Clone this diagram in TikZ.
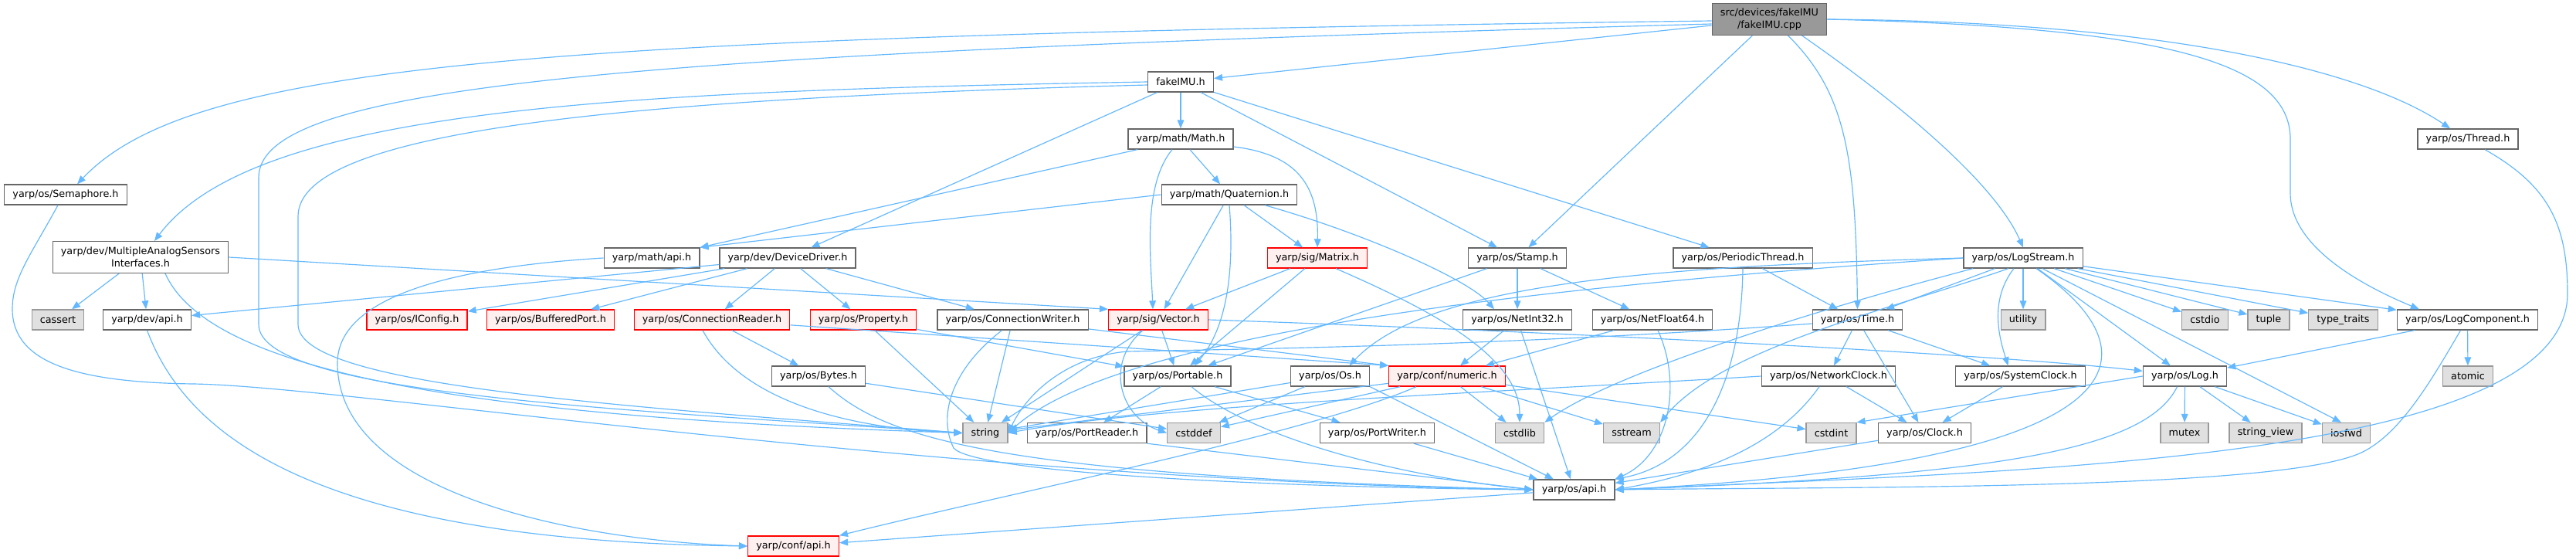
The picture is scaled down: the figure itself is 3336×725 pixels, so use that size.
\documentclass[tikz,border=0pt]{standalone}
\usepackage{fontspec}
\setmainfont{DejaVu Sans}
\usetikzlibrary{arrows.meta}
\definecolor{edgeblue}{HTML}{63B8FF}
\definecolor{boxline}{HTML}{666666}
\definecolor{redfill}{HTML}{FFF0F0}
\definecolor{redline}{HTML}{FF0000}
\definecolor{sysfill}{HTML}{E0E0E0}
\definecolor{sysline}{HTML}{999999}
\definecolor{srcfill}{HTML}{999999}
\tikzset{
  hdr/.style     = {draw=boxline, line width=0.4mm, fill=white, text=black,
                    inner xsep=3.2mm, inner ysep=0pt, minimum height=7.8mm,
                    font=\fontsize{10.9}{13.4}\selectfont},
  hdrred/.style  = {hdr, draw=redline, fill=redfill},
  hdrsys/.style  = {hdr, draw=sysline, fill=sysfill},
  hdrtwo/.style  = {hdr, minimum height=12.2mm, align=center},
  hdrsrc/.style  = {hdrtwo, fill=srcfill},
  dep/.style     = {draw=edgeblue, line width=0.35mm,
                    -{Triangle[length=3.3mm,width=2.6mm]}},
}
\begin{document}
\begin{tikzpicture}[x=0.3mm, y=-0.3mm]
  \fill[white] (0,0) rectangle (3336,725);
  \useasboundingbox (0,0) rectangle (3336,725);
  % rows 0-4
  \node[hdrsrc] (cpp)       at (2291.5,25) {src/devices/fakeIMU\\/fakeIMU.cpp};
  \node[hdr]    (fakeimuh)  at (1529,106)  {fakeIMU.h};
  \node[hdr]    (math)      at (1529,180)  {yarp/math/Math.h};
  \node[hdr]    (thread)    at (3196,180)  {yarp/os/Thread.h};
  \node[hdr]    (semaphore) at (85,252)    {yarp/os/Semaphore.h};
  \node[hdr]    (quat)      at (1592,252)  {yarp/math/Quaternion.h};
  \node[hdrtwo] (masi)      at (182,333)   {yarp/dev/MultipleAnalogSensors\\Interfaces.h};
  \node[hdr]    (mathapi)   at (844,334)   {yarp/math/api.h};
  \node[hdr]    (devdrv)    at (1020,334)  {yarp/dev/DeviceDriver.h};
  \node[hdrred] (matrix)    at (1706,334)  {yarp/sig/Matrix.h};
  \node[hdr]    (stamp)     at (1965,334)  {yarp/os/Stamp.h};
  \node[hdr]    (pthread)   at (2257,334)  {yarp/os/PeriodicThread.h};
  \node[hdr]    (logstream) at (2620,334)  {yarp/os/LogStream.h};
  % row 5
  \node[hdrsys] (cassert)    at (75,414)     {cassert};
  \node[hdr]    (devapi)     at (190.5,414)  {yarp/dev/api.h};
  \node[hdrred] (iconfig)    at (540,414)    {yarp/os/IConfig.h};
  \node[hdrred] (bufport)    at (713,414)    {yarp/os/BufferedPort.h};
  \node[hdrred] (connreader) at (922,414)    {yarp/os/ConnectionReader.h};
  \node[hdrred] (property)   at (1118,414)   {yarp/os/Property.h};
  \node[hdr]    (connwriter) at (1311.5,414) {yarp/os/ConnectionWriter.h};
  \node[hdrred] (vector)     at (1500,414)   {yarp/sig/Vector.h};
  \node[hdr]    (netint32)   at (1965,414)   {yarp/os/NetInt32.h};
  \node[hdr]    (netfloat)   at (2140,414)   {yarp/os/NetFloat64.h};
  \node[hdr]    (time)       at (2405.5,414) {yarp/os/Time.h};
  \node[hdrsys] (utility)    at (2620,414)   {utility};
  \node[hdrsys] (cstdio)     at (2855.5,414) {cstdio};
  \node[hdrsys] (tuple)      at (2938,414)   {tuple};
  \node[hdrsys] (typetraits) at (3034.5,414) {type\_traits};
  \node[hdr]    (logcomp)    at (3195.5,414) {yarp/os/LogComponent.h};
  % row 6
  \node[hdr]    (bytes)    at (1060,487)   {yarp/os/Bytes.h};
  \node[hdr]    (portable) at (1525,487)   {yarp/os/Portable.h};
  \node[hdr]    (os)       at (1722.5,487) {yarp/os/Os.h};
  \node[hdrred] (numeric)  at (1874,487)   {yarp/conf/numeric.h};
  \node[hdr]    (netclock) at (2368,487)   {yarp/os/NetworkClock.h};
  \node[hdr]    (sysclock) at (2616.5,487) {yarp/os/SystemClock.h};
  \node[hdr]    (log)      at (2829.5,487) {yarp/os/Log.h};
  \node[hdrsys] (atomic)   at (3196,487)   {atomic};
  % row 7
  \node[hdrsys] (string)     at (1276,560.5)   {string};
  \node[hdr]    (portreader) at (1407.5,560.5) {yarp/os/PortReader.h};
  \node[hdrsys] (cstddef)    at (1546,560.5)   {cstddef};
  \node[hdr]    (portwriter) at (1783.5,560.5) {yarp/os/PortWriter.h};
  \node[hdrsys] (cstdlib)    at (1968,560.5)   {cstdlib};
  \node[hdrsys] (sstream)    at (2113,560.5)   {sstream};
  \node[hdrsys] (cstdint)    at (2371.5,560.5) {cstdint};
  \node[hdr]    (clock)      at (2492.5,560.5) {yarp/os/Clock.h};
  \node[hdrsys] (mutex)      at (2829,560.5)   {mutex};
  \node[hdrsys] (strview)    at (2934,560.5)   {string\_view};
  \node[hdrsys] (iosfwd)     at (3038.5,560.5) {iosfwd};
  % rows 8-9
  \node[hdr]    (osapi)   at (2038.5,634) {yarp/os/api.h};
  \node[hdrred] (confapi) at (1027.5,707) {yarp/conf/api.h};

  % fakeIMU.cpp
  \draw[dep] (cpp) -- (fakeimuh);
  \draw[dep] ([yshift=-0.6mm]cpp.west) .. controls (700,47) and (250,80) .. ([xshift=4.5mm]semaphore.north);
  \draw[dep] ([yshift=-1.8mm]cpp.west) .. controls (800,70) and (335,110) .. (335,230) -- (335,420)
             .. controls (335,510) and (800,530) .. (string.west);
  \draw[dep] (cpp) -- (stamp);
  \draw[dep] ([xshift=7.2mm]cpp.south) .. controls (2390,120) and (2403,200) .. (time.north);
  \draw[dep] ([xshift=12.6mm]cpp.south) .. controls (2440,120) and (2580,230) .. (logstream.north);
  \draw[dep] (cpp.east) .. controls (2800,35) and (2966,80) .. (2966,180) -- (2966,250)
             .. controls (2966,320) and (3060,370) .. ([xshift=-18.8mm]logcomp.north);
  \draw[dep] (cpp.east) .. controls (2800,28) and (3060,90) .. ([xshift=-6.9mm]thread.north);
  % fakeIMU.h
  \draw[dep] (fakeimuh) -- (math);
  \draw[dep] (fakeimuh) -- (devdrv);
  \draw[dep] (fakeimuh) -- (stamp);
  \draw[dep] (fakeimuh) -- (pthread);
  \draw[dep] (fakeimuh.west) .. controls (800,118) and (330,140) .. ([xshift=5.4mm]masi.north);
  \draw[dep] ([yshift=-1.2mm]fakeimuh.west) .. controls (800,128) and (386,170) .. (386,280) -- (386,420)
             .. controls (386,500) and (800,525) .. (string.west);
  % left part
  \draw[dep] ([xshift=-3mm]semaphore.south) .. controls (40,330) and (16,360) .. (16,400)
             .. controls (16,470) and (100,495) .. (250,497)
             .. controls (450,500) and (1200,620) .. (osapi.west);
  \draw[dep] (masi) -- (cassert);
  \draw[dep] (masi) -- (devapi);
  \draw[dep] (masi.east) -- (vector.north west);
  \draw[dep] ([xshift=9.6mm]masi.south) .. controls (270,480) and (600,540) .. (string.west);
  \draw[dep] (devapi.south) .. controls (240,560) and (400,700) .. (confapi.west);
  \draw[dep] (mathapi.west) .. controls (600,345) and (437,380) .. (437,470)
             .. controls (437,640) and (750,700) .. (confapi.west);
  % math
  \draw[dep] ([xshift=-16.8mm]math.south) -- (mathapi.north east);
  \draw[dep] ([xshift=-3.3mm]math.south) .. controls (1480,240) and (1490,330) .. ([xshift=-2.1mm]vector.north);
  \draw[dep] (math) -- (quat);
  \draw[dep] ([yshift=-3mm]math.east) .. controls (1680,200) and (1708,240) .. (matrix.north);
  \draw[dep] (quat.west) -- (mathapi.north east);
  \draw[dep] (quat) -- (vector);
  \draw[dep] (quat.south) .. controls (1598,340) and (1592,420) .. ([xshift=6.6mm]portable.north);
  \draw[dep] (quat) -- (matrix);
  \draw[dep] ([xshift=13.8mm]quat.south) .. controls (1760,300) and (1900,360) .. ([xshift=-9mm]netint32.north);
  \draw[dep] (matrix) -- (vector);
  \draw[dep] (matrix) -- (portable);
  \draw[dep] ([xshift=7.2mm]matrix.south) .. controls (1850,400) and (1968,460) .. (cstdlib.north);
  % device driver
  \draw[dep] (devdrv) -- (devapi);
  \draw[dep] (devdrv) -- (iconfig);
  \draw[dep] (devdrv) -- (bufport);
  \draw[dep] (devdrv) -- (connreader);
  \draw[dep] (devdrv) -- (property);
  \draw[dep] (devdrv) -- (connwriter);
  \draw[dep] (connreader) -- (bytes);
  \draw[dep] ([xshift=-3.6mm]connreader.south) .. controls (960,520) and (1100,555) .. (string.west);
  \draw[dep] (connreader) -- (numeric.north west);
  \draw[dep] (property) -- (string);
  \draw[dep] (property) -- (portable);
  \draw[dep] (connwriter) -- (string);
  \draw[dep] (connwriter) -- (numeric.north west);
  \draw[dep] ([xshift=-4.2mm]connwriter.south) .. controls (1230,480) and (1215,540) .. (1235,580)
             .. controls (1260,610) and (1600,630) .. (osapi.west);
  \draw[dep] (vector) -- (portable);
  \draw[dep] (vector) -- (string);
  \draw[dep] ([xshift=-6mm]vector.south) .. controls (1430,470) and (1450,540) .. (cstddef.west);
  \draw[dep] (vector.east) .. controls (1900,425) and (2550,455) .. ([yshift=2mm]log.west);
  \draw[dep] (bytes) -- (cstddef);
  \draw[dep] ([xshift=3.9mm]bytes.south) .. controls (1150,570) and (1300,615) .. (osapi.west);
  \draw[dep] (portable) -- (portreader);
  \draw[dep] (portable) -- (portwriter);
  \draw[dep] ([xshift=5.4mm]portable.south) .. controls (1620,565) and (1800,615) .. (osapi.west);
  \draw[dep] (portreader.south east) -- (osapi.west);
  \draw[dep] (portwriter) -- (osapi);
  % stamp, numbers
  \draw[dep] (stamp) -- (portable);
  \draw[dep] (stamp) -- (netint32);
  \draw[dep] (stamp) -- (netfloat);
  \draw[dep] (netint32) -- (numeric);
  \draw[dep] (netint32) -- (osapi);
  \draw[dep] (netfloat) -- (numeric);
  \draw[dep] ([xshift=2.1mm]netfloat.south) .. controls (2180,500) and (2160,590) .. (osapi.north east);
  \draw[dep] (os) -- (string);
  \draw[dep] (os) -- (cstddef);
  \draw[dep] (os.south east) -- ([xshift=-8mm]osapi.north);
  \draw[dep] (numeric) -- (string);
  \draw[dep] (numeric) -- (cstddef);
  \draw[dep] (numeric) -- (cstdlib);
  \draw[dep] (numeric) -- (sstream);
  \draw[dep] (numeric) -- (cstdint);
  \draw[dep] ([xshift=-12mm]numeric.south) .. controls (1700,560) and (1300,640) .. (confapi.north east);
  \draw[dep] (osapi) -- (confapi);
  % periodic thread, time
  \draw[dep] (pthread.south) .. controls (2255,500) and (2200,600) .. (osapi.north east);
  \draw[dep] (pthread) -- (time);
  \draw[dep] (time) -- (netclock);
  \draw[dep] (time) -- (clock);
  \draw[dep] (time) -- (sysclock);
  \draw[dep] ([yshift=-1.5mm]time.west) .. controls (1950,448) and (1600,452) .. (1460,455)
             .. controls (1380,462) and (1330,510) .. (string.east);
  \draw[dep] (netclock) -- (clock);
  \draw[dep] ([xshift=-3.6mm]netclock.south) .. controls (2300,580) and (2200,615) .. (osapi.east);
  \draw[dep] (netclock.west) .. controls (1900,510) and (1500,525) .. (string.east);
  \draw[dep] (sysclock) -- (clock);
  \draw[dep] (clock) -- (osapi);
  % log stream
  \draw[dep] (logstream) -- (time);
  \draw[dep] ([xshift=-3.6mm]logstream.south) .. controls (2575,390) and (2590,440) .. ([xshift=-4.8mm]sysclock.north);
  \draw[dep] (logstream) -- (utility);
  \draw[dep] ([xshift=5.1mm]logstream.south) .. controls (2800,460) and (2780,600) .. (osapi.east);
  \draw[dep] (logstream) -- (log);
  \draw[dep] ([xshift=7.5mm]logstream.south) -- ([xshift=-2mm]iosfwd.north);
  \draw[dep] (logstream) -- (cstdio);
  \draw[dep] (logstream) -- (tuple);
  \draw[dep] (logstream) -- (typetraits);
  \draw[dep] (logstream) -- (logcomp);
  \draw[dep] ([xshift=-5.7mm]logstream.south) .. controls (2450,400) and (2230,450) .. (sstream.north east);
  \draw[dep] ([xshift=-19.5mm]logstream.south) .. controls (2300,415) and (2080,490) .. (cstdlib.north east);
  \draw[dep] (logstream.west) .. controls (2150,345) and (1850,365) .. ([xshift=7.5mm]os.north);
  \draw[dep] (logstream.west) .. controls (2000,370) and (1450,430) .. (string.east);
  % log
  \draw[dep] (log.west) -- (cstdint.north east);
  \draw[dep] ([xshift=-3mm]log.south) .. controls (2780,580) and (2600,615) .. (osapi.east);
  \draw[dep] (log) -- (mutex);
  \draw[dep] (log) -- (strview);
  \draw[dep] (log) -- (iosfwd);
  \draw[dep] (logcomp) -- (log);
  \draw[dep] (logcomp) -- (atomic);
  \draw[dep] ([xshift=-2.7mm]logcomp.south) .. controls (3150,490) and (3110,560) .. (3060,585)
             .. controls (2960,635) and (2400,630) .. (osapi.east);
  \draw[dep] ([xshift=6.6mm]thread.south) .. controls (3300,240) and (3325,290) .. (3325,380)
             .. controls (3325,600) and (2600,610) .. (osapi.east);
\end{tikzpicture}
\end{document}
